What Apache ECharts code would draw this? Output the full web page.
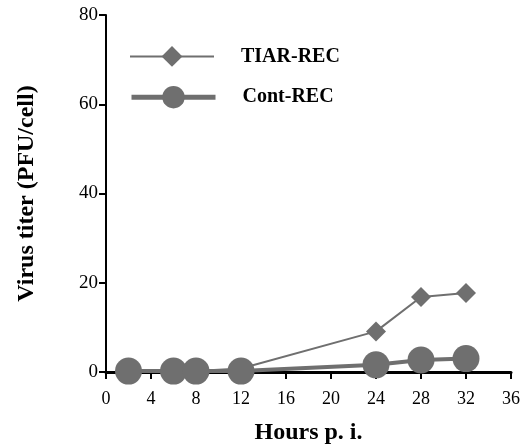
<!DOCTYPE html>
<html>
<head>
<meta charset="utf-8">
<script src="https://cdn.jsdelivr.net/npm/echarts@6/dist/echarts.min.js"></script>
<style>
  html, body { margin: 0; padding: 0; background: #fff; }
  #chart { width: 529px; height: 447px; }
</style>
</head>
<body>
<div id="chart"></div>
<script>
// --- data ---
var hours = [2, 6, 8, 12, 24, 28, 32];
var tiarRec = [0.2, 0.2, 0.2, 0.8, 9.1, 16.8, 17.7];
var contRec = [0.2, 0.2, 0.2, 0.2, 1.6, 2.7, 3.0];
var seriesNames = ['TIAR-REC', 'Cont-REC'];

function pairs(xs, ys) {
    return xs.map(function (x, i) { return [x, ys[i]]; });
}

var grey = '#6f6f6f';
var serif = '"Liberation Serif", "DejaVu Serif", serif';

var legendText = {
    fontFamily: serif,
    fontWeight: 'bold',
    fontSize: 20,
    color: '#000',
    padding: [0, 0, 0, 22]
};

var chart = echarts.init(document.getElementById('chart'));

chart.setOption({
    animation: false,
    backgroundColor: '#fff',
    grid: { left: 106, right: 18, top: 15, bottom: 75, containLabel: false, outerBoundsMode: 'none' },
    // two legends so each row gets its own symbol size
    legend: [
        {
            left: 124,
            top: 41,
            itemWidth: 84,
            itemHeight: 26,
            data: [seriesNames[0]],
            textStyle: legendText
        },
        {
            left: 124,
            top: 81,
            itemWidth: 84,
            itemHeight: 28,
            data: [seriesNames[1]],
            lineStyle: { width: 5 },
            textStyle: legendText
        }
    ],
    xAxis: {
        type: 'value',
        min: 0,
        max: 36,
        interval: 4,
        name: 'Hours p. i.',
        nameLocation: 'middle',
        nameGap: 49,
        nameTextStyle: { fontFamily: serif, fontWeight: 'bold', fontSize: 24, color: '#000' },
        axisLine: { lineStyle: { color: '#000', width: 3 } },
        axisTick: { inside: false, length: 7, lineStyle: { color: '#000', width: 2 } },
        axisLabel: { fontFamily: serif, fontSize: 18, color: '#000', margin: 18 },
        splitLine: { show: false }
    },
    yAxis: {
        type: 'value',
        min: 0,
        max: 80,
        interval: 20,
        name: 'Virus titer (PFU/cell)',
        nameLocation: 'middle',
        nameGap: 67,
        nameTextStyle: { fontFamily: serif, fontWeight: 'bold', fontSize: 24, color: '#000' },
        axisLine: { show: true, lineStyle: { color: '#000', width: 2 } },
        axisTick: { show: true, length: 7, lineStyle: { color: '#000', width: 2 } },
        axisLabel: { fontFamily: serif, fontSize: 19, color: '#000', margin: 8 },
        splitLine: { show: false }
    },
    series: [
        {
            name: seriesNames[0],
            type: 'line',
            data: pairs(hours, tiarRec),
            symbol: 'diamond',
            symbolSize: 20,
            clip: false,
            z: 3,
            lineStyle: { color: grey, width: 2 },
            itemStyle: { color: grey }
        },
        {
            name: seriesNames[1],
            type: 'line',
            data: pairs(hours, contRec),
            symbol: 'circle',
            symbolSize: 27,
            clip: false,
            z: 4,
            lineStyle: { color: grey, width: 4 },
            itemStyle: { color: grey }
        }
    ]
});
</script>
</body>
</html>
